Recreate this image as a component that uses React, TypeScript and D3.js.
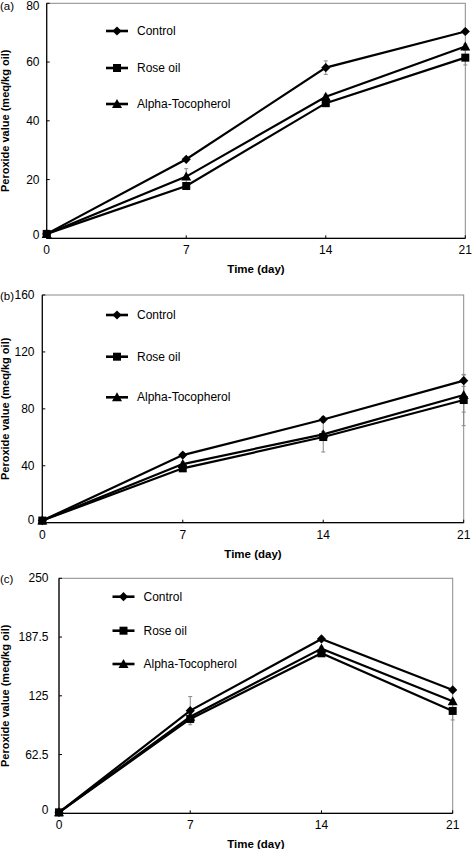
import * as d3 from "d3";

const days = [0, 7, 14, 21];
const seriesNames = ["Control", "Rose oil", "Alpha-Tocopherol"];

// panel (a)
const controlA = [1.5, 26.9, 58.1, 70.4];
const roseA = [1.5, 17.8, 46.0, 61.5];
const alphaA = [1.5, 21.0, 48.2, 65.3];
const controlErrA = [0, 0.6, 2.3, 0.8];
const roseErrA = [0, 0.6, 0.8, 2.5];
const alphaErrA = [0, 2.7, 0.8, 0.8];
const ticksA = [0, 20, 40, 60, 80];

// panel (b)
const controlB = [1.5, 47.5, 72.5, 99.8];
const roseB = [1.5, 38.2, 60.2, 86.2];
const alphaB = [1.5, 41.2, 62.1, 89.7];
const controlErrB = [0, 1.5, 2, 4];
const roseErrB = [0, 1.5, 10.5, 18];
const alphaErrB = [0, 1.5, 2, 12];
const ticksB = [0, 40, 80, 120, 160];

// panel (c)
const controlC = [1, 109.2, 185.5, 131.2];
const roseC = [1, 100.4, 170.2, 108.9];
const alphaC = [1, 102.8, 175.2, 119.1];
const controlErrC = [0, 15, 2, 2];
const roseErrC = [0, 4, 2, 9.6];
const alphaErrC = [0, 3, 2, 2];
const ticksC = [0, 62.5, 125, 187.5, 250];

const FONT = "'Liberation Sans', Arial, sans-serif";

type PanelProps = {
  tag: string;
  box: { left: number; right: number; top: number; bottom: number };
  values: number[][];
  errors: number[][];
  ticks: number[];
  tickRight: number;
  legend: { x: number; ys: number[] };
};

const Marker = ({ kind, x, y }: { kind: number; x: number; y: number }) => {
  if (kind === 0) {
    const s = 4.6;
    return (
      <path
        d={`M${x},${y - s}L${x + s},${y}L${x},${y + s}L${x - s},${y}Z`}
        fill="#000"
      />
    );
  }
  if (kind === 1) {
    return <rect x={x - 4} y={y - 4} width={8} height={8} fill="#000" />;
  }
  const s = 5;
  return (
    <path
      d={`M${x},${y - s}L${x + s},${y + s * 0.8}L${x - s},${y + s * 0.8}Z`}
      fill="#000"
    />
  );
};

const Panel = ({ tag, box, values, errors, ticks, tickRight, legend }: PanelProps) => {
  const x = d3.scaleLinear().domain([0, 21]).range([box.left, box.right]);
  const y = d3
    .scaleLinear()
    .domain([0, ticks[ticks.length - 1]])
    .range([box.bottom, box.top]);

  const line = d3
    .line<number>()
    .x((_, i) => x(days[i]))
    .y((d) => y(d));

  // Control, Alpha, Rose: the square sits on top
  const order = [0, 2, 1];

  return (
    <g fontFamily={FONT}>
      <text x={0} y={Math.max(box.top + 1, 6)} dominantBaseline="central" fontSize={11.5} fill="#000">
        {tag}
      </text>
      <rect
        x={box.left}
        y={box.top}
        width={box.right - box.left}
        height={box.bottom - box.top}
        fill="none"
        stroke="#8a8a8a"
        strokeWidth={1}
      />
      <line x1={box.left} x2={box.left} y1={box.top} y2={box.bottom} stroke="#000" strokeWidth={1.2} />
      <line x1={box.left} x2={box.right} y1={box.bottom} y2={box.bottom} stroke="#000" strokeWidth={1.2} />
      {ticks.map((t) => (
        <g key={t}>
          <line x1={box.left} x2={box.left + 3} y1={y(t)} y2={y(t)} stroke="#000" />
          <text
            x={tickRight}
            y={Math.max(y(t) - (t === 0 ? 3 : 0), 6)}
            textAnchor="end"
            dominantBaseline="central"
            fontSize={12}
          >
            {t}
          </text>
        </g>
      ))}
      {days.map((d) => (
        <g key={d}>
          <line x1={x(d)} x2={x(d)} y1={box.bottom} y2={box.bottom - 3} stroke="#000" />
          <text x={x(d)} y={box.bottom + 12} textAnchor="middle" dominantBaseline="central" fontSize={12}>
            {d}
          </text>
        </g>
      ))}
      <text
        x={(box.left + box.right) / 2}
        y={box.bottom + 31}
        textAnchor="middle"
        dominantBaseline="central"
        fontSize={11.5}
        fontWeight="bold"
      >
        Time (day)
      </text>
      <text
        transform={`translate(5,${(box.top + box.bottom) / 2}) rotate(-90)`}
        textAnchor="middle"
        dominantBaseline="central"
        fontSize={11}
        fontWeight="bold"
      >
        Peroxide value (meq/kg oil)
      </text>
      {order.map((s) => (
        <path key={s} d={line(values[s])!} fill="none" stroke="#000" strokeWidth={2.2} />
      ))}
      {order.map((s) =>
        values[s].map((v, i) =>
          errors[s][i] > 0 ? (
            <g key={`${s}-${i}`} stroke="#888" strokeWidth={1}>
              <line x1={x(days[i])} x2={x(days[i])} y1={y(v - errors[s][i])} y2={y(v + errors[s][i])} />
              <line x1={x(days[i]) - 2} x2={x(days[i]) + 2} y1={y(v - errors[s][i])} y2={y(v - errors[s][i])} />
              <line x1={x(days[i]) - 2} x2={x(days[i]) + 2} y1={y(v + errors[s][i])} y2={y(v + errors[s][i])} />
            </g>
          ) : null
        )
      )}
      {order.map((s) =>
        values[s].map((v, i) => <Marker key={`m${s}-${i}`} kind={s} x={x(days[i])} y={y(v)} />)
      )}
      {seriesNames.map((name, s) => (
        <g key={name}>
          <line
            x1={legend.x}
            x2={legend.x + 22}
            y1={legend.ys[s]}
            y2={legend.ys[s]}
            stroke="#000"
            strokeWidth={2.6}
          />
          <Marker kind={s} x={legend.x + 11} y={legend.ys[s]} />
          <text x={legend.x + 31} y={legend.ys[s]} dominantBaseline="central" fontSize={12}>
            {name}
          </text>
        </g>
      ))}
    </g>
  );
};

export default function App() {
  return (
    <svg
      width={472}
      height={849}
      style={{ position: "absolute", left: 0, top: 0, background: "#fff" }}
    >
      <Panel
        tag="(a)"
        box={{ left: 46.7, right: 465.3, top: 3.3, bottom: 238.3 }}
        values={[controlA, roseA, alphaA]}
        errors={[controlErrA, roseErrA, alphaErrA]}
        ticks={ticksA}
        tickRight={39.5}
        legend={{ x: 106, ys: [31, 68, 104] }}
      />
      <Panel
        tag="(b)"
        box={{ left: 42.3, right: 463.7, top: 295, bottom: 522.7 }}
        values={[controlB, roseB, alphaB]}
        errors={[controlErrB, roseErrB, alphaErrB]}
        ticks={ticksB}
        tickRight={34.5}
        legend={{ x: 106, ys: [315, 356.7, 397.3] }}
      />
      <Panel
        tag="(c)"
        box={{ left: 59, right: 452.7, top: 578.3, bottom: 813.3 }}
        values={[controlC, roseC, alphaC]}
        errors={[controlErrC, roseErrC, alphaErrC]}
        ticks={ticksC}
        tickRight={48.5}
        legend={{ x: 112.5, ys: [596.7, 630.7, 664] }}
      />
    </svg>
  );
}
